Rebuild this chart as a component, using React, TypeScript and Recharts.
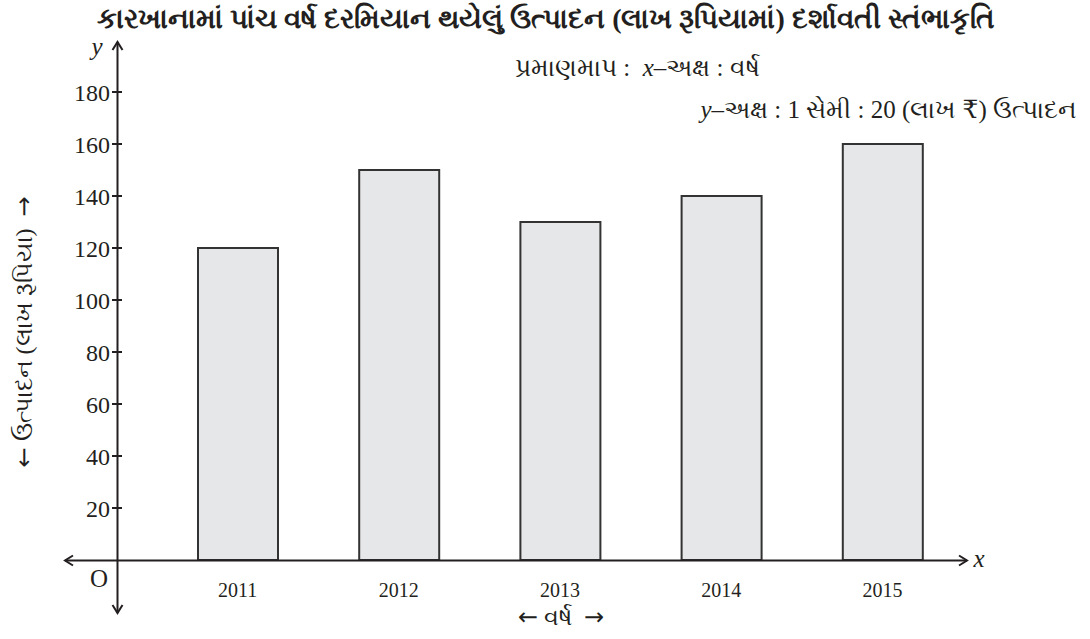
import { BarChart, Bar, XAxis, YAxis } from 'recharts';

const years = ['2011', '2012', '2013', '2014', '2015'];
const production = [120, 150, 130, 140, 160];
const yTicks = [20, 40, 60, 80, 100, 120, 140, 160, 180];

const data = years.map((year, i) => ({ year, production: production[i] }));

const INK = '#231f20';
const FONT = '"Liberation Serif", "DejaVu Serif", serif';

const YTick = ({ x, y, payload }: any) => (
    <g>
        <line x1={x - 5} x2={x + 5} y1={y} y2={y} stroke={INK} strokeWidth={2} />
        <text x={x - 7} y={y} dy="0.36em" textAnchor="end" fontSize={24} fill={INK} fontFamily={FONT}>
            {payload.value}
        </text>
    </g>
);

// axis lines with arrow heads, title and scale notes
const Overlay = () => (
    <svg width={1090} height={639} style={{ position: 'absolute', left: 0, top: 0, pointerEvents: 'none' }}>
        <g stroke={INK} strokeWidth={2} fill="none">
            <line x1={117.5} y1={42} x2={117.5} y2={613} />
            <polyline points="112.5,50 117.5,42 122.5,50" />
            <polyline points="112.5,605 117.5,613 122.5,605" />
            <line x1={65} y1={560.5} x2={967} y2={560.5} />
            <polyline points="73,555.5 65,560.5 73,565.5" />
            <polyline points="959,555.5 967,560.5 959,565.5" />
        </g>
        <g fill={INK} fontFamily={FONT}>
            <text x={546} y={28} textAnchor="middle" fontSize={28} fontWeight="bold">
                કારખાનામાં પાંચ વર્ષ દરમિયાન થયેલું ઉત્પાદન (લાખ રૂપિયામાં) દર્શાવતી સ્તંભાકૃતિ
            </text>
            <text x={97} y={55} textAnchor="middle" fontSize={25} fontStyle="italic">y</text>
            <text x={979} y={567} textAnchor="middle" fontSize={25} fontStyle="italic">x</text>
            <text x={99} y={587} textAnchor="middle" fontSize={25}>O</text>
            <text x={515} y={76} fontSize={25} xmlSpace="preserve">
                પ્રમાણમાપ :  <tspan fontStyle="italic">x</tspan>–અક્ષ : વર્ષ
            </text>
            <text x={1077} y={118} textAnchor="end" fontSize={25} xmlSpace="preserve">
                <tspan fontStyle="italic">y</tspan>–અક્ષ : 1 સેમી : 20 (લાખ ₹) ઉત્પાદન
            </text>
            <text x={561} y={625} textAnchor="middle" fontSize={24} xmlSpace="preserve">
                <tspan fontFamily="DejaVu Sans">←</tspan> વર્ષ  <tspan fontFamily="DejaVu Sans">→</tspan>
            </text>
            <text x={32} y={332} textAnchor="middle" fontSize={24} transform="rotate(-90 32 332)" xmlSpace="preserve">
                <tspan fontFamily="DejaVu Sans">←</tspan> ઉત્પાદન (લાખ રૂપિયા)  <tspan fontFamily="DejaVu Sans">→</tspan>
            </text>
        </g>
    </svg>
);

export default function App() {
    return (
        <div style={{ position: 'absolute', left: 0, top: 0, width: 1090, height: 639, background: '#fff' }}>
            <BarChart width={1090} height={639} data={data} margin={{ top: 40, right: 123, left: 57, bottom: 49 }}>
                <XAxis
                    dataKey="year"
                    axisLine={false}
                    tickLine={false}
                    tickSize={0}
                    tickMargin={23}
                    height={30}
                    padding={{ left: 40, right: 4 }}
                    tick={{ fontSize: 20, fill: INK, fontFamily: FONT }}
                />
                <YAxis
                    domain={[0, 200]}
                    ticks={yTicks}
                    axisLine={false}
                    tickLine={false}
                    tickSize={0}
                    tickMargin={0}
                    width={60}
                    tick={<YTick />}
                />
                <Bar dataKey="production" fill="#e6e7e8" stroke="#333" strokeWidth={2} barSize={80} isAnimationActive={false} />
            </BarChart>
            <Overlay />
        </div>
    );
}
